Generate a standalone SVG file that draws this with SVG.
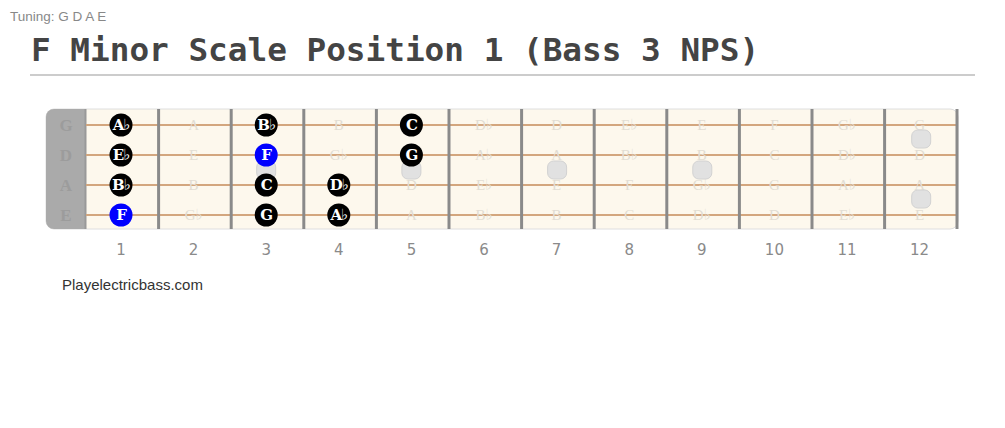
<svg xmlns="http://www.w3.org/2000/svg" width="1005" height="428" viewBox="0 0 1005 428">
<style>
.ghost{font-family:"Liberation Serif","DejaVu Serif",serif;font-size:15px;fill:#e2ddd3;text-anchor:middle}
.open{font-family:"Liberation Serif",serif;font-weight:bold;font-size:17px;fill:#9c9c9c;text-anchor:middle}
.note{font-family:"DejaVu Serif","Liberation Serif",serif;font-weight:bold;font-size:15px;fill:#fff;text-anchor:middle;letter-spacing:-1px}
.fn{font-family:"DejaVu Sans",sans-serif;font-size:15px;fill:#8a8a8a;text-anchor:middle}
.str{stroke:#d3a67e;stroke-width:2}
.fret{stroke:#8a8a8a;stroke-width:3}
.dot{fill:#e1e1e1;stroke:#d2d2d2;stroke-width:1}
</style>
<rect width="1005" height="428" fill="#fff"/>
<text x="10" y="21" font-family="Liberation Sans, Arial, sans-serif" font-size="13.5" fill="#888">Tuning: G D A E</text>
<text x="31" y="61" font-family="DejaVu Sans Mono, monospace" font-weight="bold" font-size="32.7" fill="#444">F Minor Scale Position 1 (Bass 3 NPS)</text>
<line x1="30" y1="75" x2="975" y2="75" stroke="#cccccc" stroke-width="2"/>

<g id="fretboard">
<rect x="46" y="109" width="912" height="120" rx="8" fill="#fdf8ed" stroke="#dedede" stroke-width="1"/>
<path d="M86 109 H54 A8 8 0 0 0 46 117 V221 A8 8 0 0 0 54 229 H86 Z" fill="#aaaaaa"/>
<line x1="85.5" y1="109" x2="85.5" y2="229" stroke="#999" stroke-width="2"/>
<text class="open" x="66" y="131">G</text>
<text class="open" x="66" y="161">D</text>
<text class="open" x="66" y="191">A</text>
<text class="open" x="66" y="221">E</text>
<line class="str" x1="86" y1="125" x2="958" y2="125"/>
<line class="str" x1="86" y1="155" x2="958" y2="155"/>
<line class="str" x1="86" y1="185" x2="958" y2="185"/>
<line class="str" x1="86" y1="215" x2="958" y2="215"/>
<line class="fret" x1="158.6" y1="109" x2="158.6" y2="229"/>
<line class="fret" x1="231.2" y1="109" x2="231.2" y2="229"/>
<line class="fret" x1="303.8" y1="109" x2="303.8" y2="229"/>
<line class="fret" x1="376.4" y1="109" x2="376.4" y2="229"/>
<line class="fret" x1="449" y1="109" x2="449" y2="229"/>
<line class="fret" x1="521.6" y1="109" x2="521.6" y2="229"/>
<line class="fret" x1="594.2" y1="109" x2="594.2" y2="229"/>
<line class="fret" x1="666.8" y1="109" x2="666.8" y2="229"/>
<line class="fret" x1="739.4" y1="109" x2="739.4" y2="229"/>
<line class="fret" x1="812" y1="109" x2="812" y2="229"/>
<line class="fret" x1="884.6" y1="109" x2="884.6" y2="229"/>
<line class="fret" x1="957" y1="109" x2="957" y2="229"/>
</g>

<g id="ghost-notes">
<text class="ghost" x="193.6" y="130">A</text>
<text class="ghost" x="338.8" y="130">B</text>
<text class="ghost" x="484" y="130">D♭</text>
<text class="ghost" x="556.6" y="130">D</text>
<text class="ghost" x="629.2" y="130">E♭</text>
<text class="ghost" x="701.8" y="130">E</text>
<text class="ghost" x="774.4" y="130">F</text>
<text class="ghost" x="847" y="130">G♭</text>
<text class="ghost" x="919.6" y="130">G</text>

<text class="ghost" x="193.6" y="160">E</text>
<text class="ghost" x="338.8" y="160">G♭</text>
<text class="ghost" x="484" y="160">A♭</text>
<text class="ghost" x="556.6" y="160">A</text>
<text class="ghost" x="629.2" y="160">B♭</text>
<text class="ghost" x="701.8" y="160">B</text>
<text class="ghost" x="774.4" y="160">C</text>
<text class="ghost" x="847" y="160">D♭</text>
<text class="ghost" x="919.6" y="160">D</text>

<text class="ghost" x="193.6" y="190">B</text>
<text class="ghost" x="411.4" y="190">D</text>
<text class="ghost" x="484" y="190">E♭</text>
<text class="ghost" x="556.6" y="190">E</text>
<text class="ghost" x="629.2" y="190">F</text>
<text class="ghost" x="701.8" y="190">G♭</text>
<text class="ghost" x="774.4" y="190">G</text>
<text class="ghost" x="847" y="190">A♭</text>
<text class="ghost" x="919.6" y="190">A</text>

<text class="ghost" x="193.6" y="220">G♭</text>
<text class="ghost" x="411.4" y="220">A</text>
<text class="ghost" x="484" y="220">B♭</text>
<text class="ghost" x="556.6" y="220">B</text>
<text class="ghost" x="629.2" y="220">C</text>
<text class="ghost" x="701.8" y="220">D♭</text>
<text class="ghost" x="774.4" y="220">D</text>
<text class="ghost" x="847" y="220">E♭</text>
<text class="ghost" x="919.6" y="220">E</text>
</g>

<g id="inlays">
<rect class="dot" x="256.7" y="161" width="19" height="18" rx="6"/>
<rect class="dot" x="401.9" y="161" width="19" height="18" rx="6"/>
<rect class="dot" x="547.6" y="161" width="19" height="18" rx="6"/>
<rect class="dot" x="692.8" y="161" width="19" height="18" rx="6"/>
<rect class="dot" x="911.7" y="130" width="19" height="18" rx="6"/>
<rect class="dot" x="911.7" y="190" width="19" height="18" rx="6"/>
</g>

<g id="note-G1"><circle cx="121" cy="125" r="11.5" fill="#000"/><text class="note" x="121" y="130">A♭</text></g>
<g id="note-G3"><circle cx="266.2" cy="125" r="11.5" fill="#000"/><text class="note" x="266.2" y="130">B♭</text></g>
<g id="note-G5"><circle cx="411.4" cy="125" r="11.5" fill="#000"/><text class="note" x="411.4" y="130">C</text></g>

<g id="note-D1"><circle cx="121" cy="155" r="11.5" fill="#000"/><text class="note" x="121" y="160">E♭</text></g>
<g id="note-D3"><circle cx="266.2" cy="155" r="11.5" fill="#0000ff"/><text class="note" x="266.2" y="160">F</text></g>
<g id="note-D5"><circle cx="411.4" cy="155" r="11.5" fill="#000"/><text class="note" x="411.4" y="160">G</text></g>

<g id="note-A1"><circle cx="121" cy="185" r="11.5" fill="#000"/><text class="note" x="121" y="190">B♭</text></g>
<g id="note-A3"><circle cx="266.2" cy="185" r="11.5" fill="#000"/><text class="note" x="266.2" y="190">C</text></g>
<g id="note-A4"><circle cx="338.8" cy="185" r="11.5" fill="#000"/><text class="note" x="338.8" y="190">D♭</text></g>

<g id="note-E1"><circle cx="121" cy="215" r="11.5" fill="#0000ff"/><text class="note" x="121" y="220">F</text></g>
<g id="note-E3"><circle cx="266.2" cy="215" r="11.5" fill="#000"/><text class="note" x="266.2" y="220">G</text></g>
<g id="note-E4"><circle cx="338.8" cy="215" r="11.5" fill="#000"/><text class="note" x="338.8" y="220">A♭</text></g>

<g id="fret-numbers">
<text class="fn" x="121" y="255">1</text>
<text class="fn" x="193.6" y="255">2</text>
<text class="fn" x="266.2" y="255">3</text>
<text class="fn" x="338.8" y="255">4</text>
<text class="fn" x="411.4" y="255">5</text>
<text class="fn" x="484" y="255">6</text>
<text class="fn" x="556.6" y="255">7</text>
<text class="fn" x="629.2" y="255">8</text>
<text class="fn" x="701.8" y="255">9</text>
<text class="fn" x="774.4" y="255">10</text>
<text class="fn" x="847" y="255">11</text>
<text class="fn" x="919.6" y="255">12</text>
</g>
<text x="62" y="290" font-family="Liberation Sans, Arial, sans-serif" font-size="15" fill="#333">Playelectricbass.com</text>
</svg>
